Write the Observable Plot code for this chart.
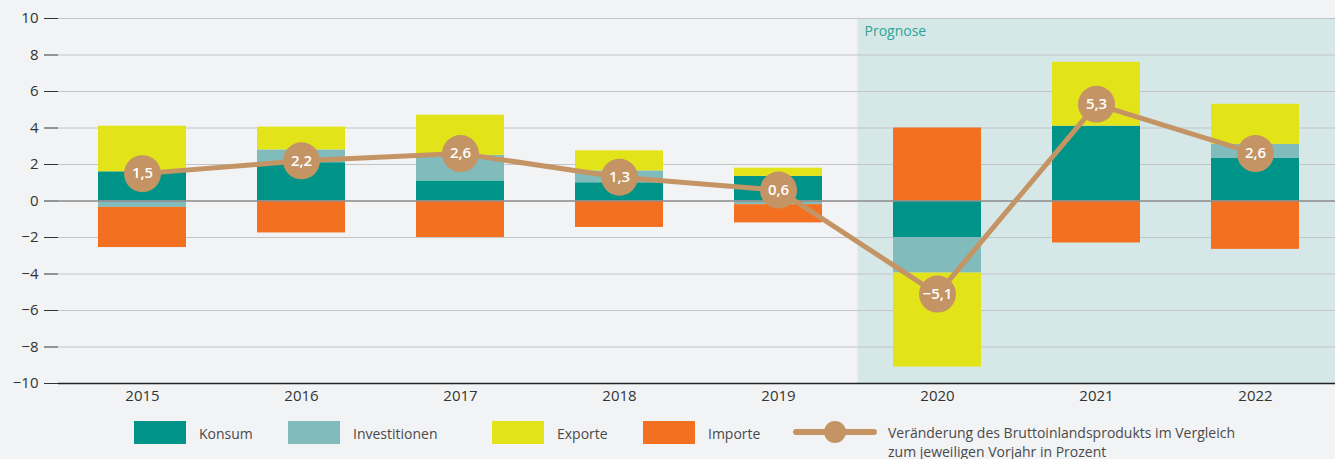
<!DOCTYPE html>
<html><head><meta charset="utf-8">
<script src="https://cdn.jsdelivr.net/npm/d3@7"></script>
<script src="https://cdn.jsdelivr.net/npm/@observablehq/plot@0.6"></script>
<style>
html,body{margin:0;padding:0;background:#f2f3f5;}
body{width:1335px;height:459px;overflow:hidden;position:relative;font-family:"Open Sans",sans-serif;}
#chart svg{display:block;}
.sw{position:absolute;top:421px;width:52px;height:23px;}
.lb{position:absolute;top:424px;font-size:14px;line-height:19px;color:#4a4a4a;white-space:nowrap;}
.ln{position:absolute;top:429px;left:793px;width:84px;height:6px;border-radius:3px;background:#c49464;}
.dt{position:absolute;top:421px;left:824px;width:22px;height:22px;border-radius:50%;background:#c49464;}
</style></head><body>
<div id="chart"></div>
<div id="legend"></div>
<script>
const years = ["2015","2016","2017","2018","2019","2020","2021","2022"];
const konsum        = [1.6, 2.1, 1.1, 1.0, 1.35, -2.0, 4.1, 2.35];
const investitionen = [-0.35, 0.7, 1.4, 0.65, -0.2, -1.95, 0, 0.75];
const exporte       = [2.5, 1.25, 2.2, 1.1, 0.45, -5.15, 3.5, 2.2];
const importe       = [-2.2, -1.75, -2.0, -1.45, -1.0, 4.0, -2.3, -2.65];
const bip           = [1.5, 2.2, 2.6, 1.3, 0.6, -5.1, 5.3, 2.6];
const forecastYears = ["2020","2021","2022"];
const forecastLabel = ["Prognose"];
const yDomain = [-10, 10];
const yTicks = [-10, -8, -6, -4, -2, 0, 2, 4, 6, 8, 10];
const compNames = ["Konsum","Investitionen","Exporte","Importe"];
const compColors = ["#009488","#82bbbb","#e2e419","#f37021"];
const compValues = [konsum, investitionen, exporte, importe];
const bipLabel = "Veränderung des Bruttoinlandsprodukts im Vergleich<br>zum jeweiligen Vorjahr in Prozent";

const stackData = years.flatMap((yr, i) => compNames.map((name, k) => ({year: yr, comp: name, value: compValues[k][i]})));
const bipData = years.map((yr, i) => ({year: yr, value: bip[i]}));
const fmt = v => v.toFixed(1).replace(".", ",").replace("-", "\u2212");

const chart = Plot.plot({
  width: 1335, height: 410,
  marginTop: 18, marginBottom: 27, marginLeft: 58, marginRight: 0,
  style: {background: "transparent", fontFamily: "Open Sans, sans-serif", fontSize: "15px", color: "#333"},
  x: {domain: years, range: [62.5, 1334.5], paddingInner: 0.4465, paddingOuter: 0.22325, label: null},
  y: {domain: yDomain, label: null},
  color: {domain: compNames, range: compColors},
  marks: [
    Plot.barY(forecastYears, {x: d => d, y1: () => yDomain[0], y2: () => yDomain[1], fill: "#d5e8e7", insetLeft: -35.5, insetRight: -37}),
    Plot.ruleY(yTicks.filter(t => t !== 0 && t !== yDomain[0]), {stroke: "#c3c4c6", strokeWidth: 1}),
    Plot.text(forecastLabel.map(l => ({year: forecastYears[0], label: l})), {x: "year", y: () => yDomain[1], text: "label", textAnchor: "start", lineAnchor: "top", dx: -73, dy: 8, fill: "#2ea397", fontSize: 14}),
    Plot.barY(stackData, {x: "year", y: "value", fill: "comp"}),
    Plot.ruleY([0], {stroke: "#8a8a8a", strokeWidth: 1.5}),
    Plot.ruleY([yDomain[0]], {stroke: "#222", strokeWidth: 1.5}),
    Plot.axisY({ticks: yTicks, tickSize: 14, tickPadding: 6, stroke: "#333", fill: "#333", fontSize: 15, label: null}),
    Plot.axisX({tickSize: 0, tickPadding: 7, fill: "#333", fontSize: 15, label: null}),
    Plot.line(bipData, {x: "year", y: "value", stroke: "#c49464", strokeWidth: 5}),
    Plot.dot(bipData, {x: "year", y: "value", r: 18.5, fill: "#c49464"}),
    Plot.text(bipData, {x: "year", y: "value", text: d => fmt(d.value), fill: "white", fontSize: 15, fontWeight: 600})
  ]
});
document.getElementById("chart").appendChild(chart);

const legendPos = [[134,199],[288,353],[492,557],[643,708]];
const lg = document.getElementById("legend");
compNames.forEach((n, k) => {
  const s = document.createElement("div"); s.className = "sw"; s.style.left = legendPos[k][0] + "px"; s.style.background = compColors[k]; lg.appendChild(s);
  const t = document.createElement("div"); t.className = "lb"; t.style.left = legendPos[k][1] + "px"; t.textContent = n; lg.appendChild(t);
});
const ln = document.createElement("div"); ln.className = "ln"; lg.appendChild(ln);
const dt = document.createElement("div"); dt.className = "dt"; lg.appendChild(dt);
const bt = document.createElement("div"); bt.className = "lb"; bt.style.left = "888px"; bt.style.lineHeight = "18.5px"; bt.innerHTML = bipLabel; lg.appendChild(bt);
</script>
</body></html>
